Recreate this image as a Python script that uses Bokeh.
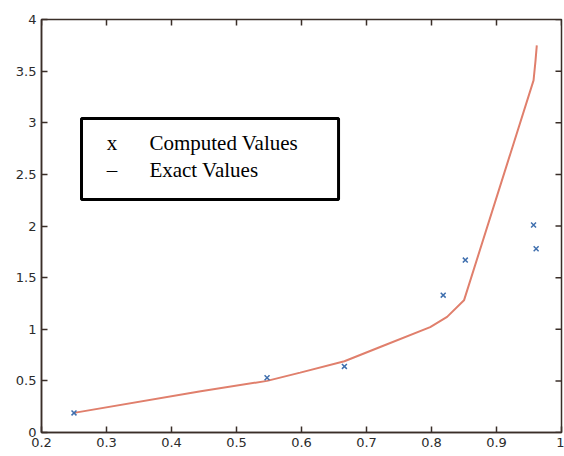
import math
from bokeh.plotting import figure
from bokeh.models import Range1d, FixedTicker
from bokeh.core.properties import value
from bokeh.embed import file_html
from bokeh.resources import INLINE

# Computed values (markers)
comp_x = [0.25, 0.547, 0.666, 0.818, 0.852, 0.957, 0.961]
comp_y = [0.19, 0.53, 0.64, 1.33, 1.67, 2.01, 1.78]

# Exact values (line)
exact_x = [0.25, 0.445, 0.547, 0.598, 0.666, 0.722, 0.798, 0.824, 0.850, 0.957, 0.960, 0.962]
exact_y = [0.19, 0.40, 0.50, 0.58, 0.69, 0.83, 1.02, 1.12, 1.28, 3.41, 3.60, 3.75]

x_ticks = [0.2, 0.3, 0.4, 0.5, 0.6, 0.7, 0.8, 0.9, 1.0]
x_tick_labels = ["0.2", "0.3", "0.4", "0.5", "0.6", "0.7", "0.8", "0.9", "1"]
y_ticks = [0, 0.5, 1, 1.5, 2, 2.5, 3, 3.5, 4]
y_tick_labels = ["0", "0.5", "1", "1.5", "2", "2.5", "3", "3.5", "4"]

legend_symbols = ["x", "\u2013"]
legend_labels = ["Computed Values", "Exact Values"]

AX = "#3a2e28"
FONT = "DejaVu Sans"
X0, X1, Y0, Y1 = 0.2, 1.0, 0.0, 4.0

p = figure(width=564, height=456, output_backend="svg", toolbar_location=None,
           x_range=Range1d(X0, X1), y_range=Range1d(Y0, Y1),
           min_border_left=41, min_border_right=3, min_border_top=19, min_border_bottom=24)
p.xgrid.visible = False
p.ygrid.visible = False
p.outline_line_color = AX
p.outline_line_width = 1.5
p.background_fill_color = "white"
p.border_fill_color = "white"

def style_axis(ax, ticks, labels):
    ax.ticker = FixedTicker(ticks=ticks)
    ax.major_label_overrides = {t: l for t, l in zip(ticks, labels)}
    ax.major_tick_in = 6
    ax.major_tick_out = 0
    ax.minor_tick_in = 0
    ax.minor_tick_out = 0
    ax.axis_line_color = AX
    ax.axis_line_width = 1.5
    ax.major_tick_line_color = AX
    ax.major_tick_line_width = 1.5
    ax.major_label_text_font = FONT
    ax.major_label_text_color = "#2b2b2b"
    ax.major_label_text_font_size = "13px"

style_axis(p.xaxis[0], x_ticks, x_tick_labels)
style_axis(p.yaxis[0], y_ticks, y_tick_labels)
p.xaxis[0].major_label_standoff = 5
p.yaxis[0].major_label_standoff = 5

# Mirror ticks on the top and right edges, pointing inward
p.segment(x0=x_ticks, y0=[Y1] * len(x_ticks), x1=x_ticks,
          y1=[Y1 - (Y1 - Y0) * 6 / 413] * len(x_ticks),
          line_color=AX, line_width=1.5)
p.segment(x0=[X1] * len(y_ticks), y0=y_ticks,
          x1=[X1 - (X1 - X0) * 6 / 520] * len(y_ticks), y1=y_ticks,
          line_color=AX, line_width=1.5)

p.line(exact_x, exact_y, line_color="#e07f6c", line_width=2)
p.scatter(comp_x, comp_y, marker="x", size=7, line_color="#3f6fae", line_width=1.5)

# Legend box (drawn manually)
box_l, box_r, box_t, box_b = 0.2615, 0.657, 3.04, 2.257
p.quad(left=[box_l], right=[box_r], top=[box_t], bottom=[box_b],
       fill_color="white", line_color="black", line_width=3)
sym_x = 0.3005
lab_x = 0.366
row_y = [2.80, 2.54]
p.text(x=[sym_x, sym_x], y=row_y, text=legend_symbols,
       text_font=value("Liberation Serif"), text_font_size="21px",
       text_baseline="middle", text_align="left", text_color="black")
p.text(x=[lab_x, lab_x], y=row_y, text=legend_labels,
       text_font=value("Liberation Serif"), text_font_size="21px",
       text_baseline="middle", text_align="left", text_color="black")

open("out.html", "w").write(file_html(p, INLINE))
